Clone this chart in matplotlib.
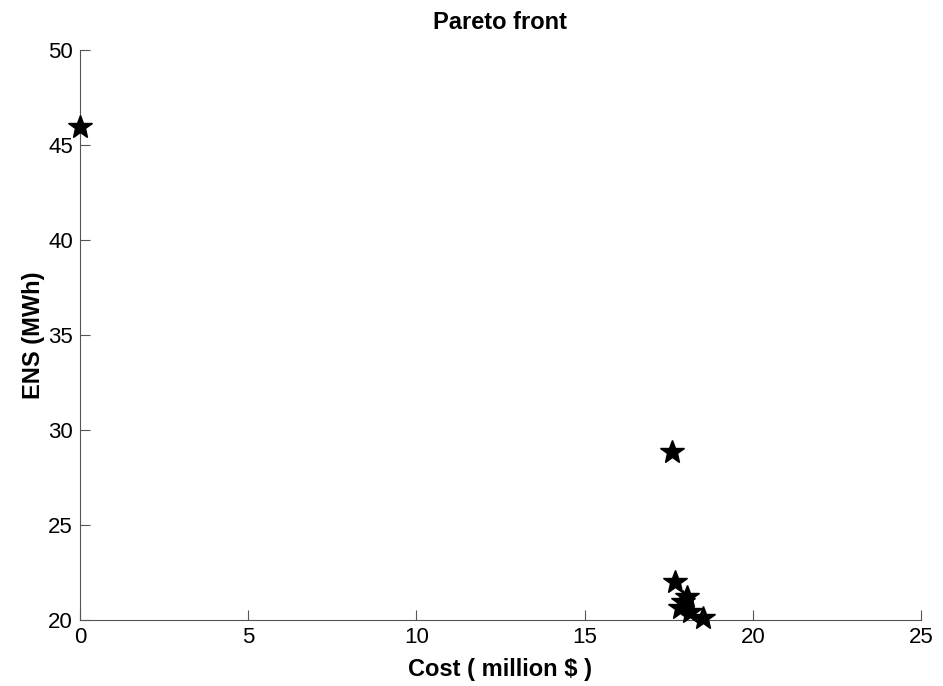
import numpy as np
import matplotlib
matplotlib.use("Agg")
import matplotlib.pyplot as plt

plt.rcParams['font.family'] = ['Liberation Sans', 'DejaVu Sans']

# Pareto front solutions
cost = [0.0, 17.61, 17.69, 18.03, 17.93, 17.84, 18.13, 18.52]   # million $
ens  = [45.93, 28.83, 22.0, 21.2, 20.95, 20.63, 20.4, 20.1]       # MWh

fig = plt.figure(figsize=(9.43, 6.86), dpi=100)
ax = fig.add_axes([0.0848, 0.0962, 0.8919, 0.8309])

ax.plot(cost, ens, linestyle='none', marker='*', color='k', markersize=18,
        clip_on=False, zorder=3)

ax.set_xlim(0, 25)
ax.set_ylim(20, 50)
ax.set_xticks(np.arange(0, 26, 5))
ax.set_yticks(np.arange(20, 51, 5))

ax.spines['top'].set_visible(False)
ax.spines['right'].set_visible(False)
ax.spines['left'].set_color('#555555')
ax.spines['bottom'].set_color('#555555')
ax.tick_params(direction='in', length=7, labelsize=16, color='#555555')
ax.tick_params(axis='x', pad=5)
ax.tick_params(axis='y', pad=5)

ax.set_title('Pareto front', fontsize=17, fontweight='bold', pad=15)
ax.set_xlabel('Cost ( million $ )', fontsize=17, fontweight='bold', labelpad=7)
ax.set_ylabel('ENS (MWh)', fontsize=17, fontweight='bold', labelpad=2)

fig.savefig('out.png', dpi=100)
